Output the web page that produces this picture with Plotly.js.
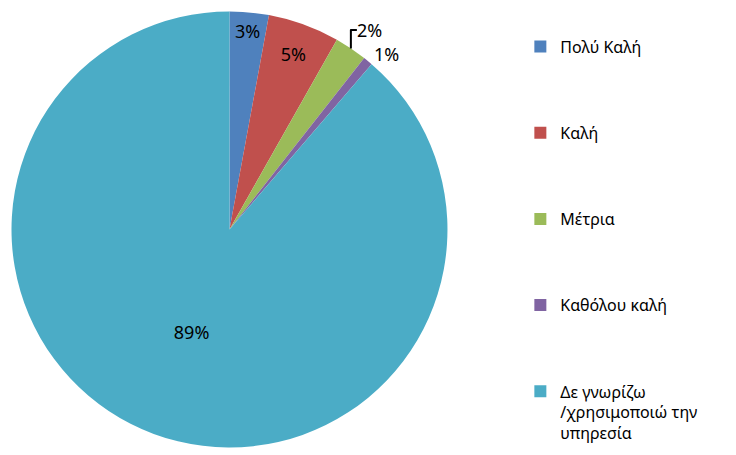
<!DOCTYPE html>
<html>
<head>
<meta charset="utf-8">
<script src="https://cdn.plot.ly/plotly-3.0.1.min.js"></script>
<style>html,body{margin:0;padding:0;background:#fff;}#chart{width:736px;height:455px;}</style>
</head>
<body>
<div id="chart"></div>
<script>
const categories = ["Πολύ Καλή", "Καλή", "Μέτρια", "Καθόλου καλή", "Δε γνωρίζω<br>/χρησιμοποιώ την<br>υπηρεσία"];
const values = [2.9, 5.3, 2.4, 0.7, 88.7];
const colors = ["#4F81BD", "#C0504D", "#9BBB59", "#8064A2", "#4BACC6"];
const textPositions = ["inside", "inside", "outside", "outside", "inside"];

// pad legend entries so they are spread vertically like the reference
const legendLabels = categories.map((c, i) => {
  const lines = c.split("<br>").length;
  let pad = "";
  if (i < categories.length - 1) for (let k = lines; k < 4; k++) pad += "<br> ";
  return c + pad;
});

const trace = {
  type: "pie",
  labels: legendLabels,
  values: values,
  sort: false,
  direction: "clockwise",
  rotation: 0,
  marker: {colors: colors, line: {width: 0}},
  texttemplate: "%{percent:.0%}",
  textposition: textPositions,
  insidetextorientation: "horizontal",
  textfont: {family: "Noto Sans, sans-serif", size: 18, color: "#000"},
  hoverinfo: "label+percent",
  domain: {x: [0.0149, 0.6087], y: [0.0165, 0.9747]},
  automargin: false
};

const layout = {
  width: 736, height: 455,
  margin: {l: 0, r: 0, t: 0, b: 0},
  paper_bgcolor: "#fff",
  showlegend: true,
  legend: {
    x: 0.707, y: 0.935, xanchor: "left", yanchor: "top",
    valign: "top",
    font: {family: "Noto Sans, sans-serif", size: 16, color: "#000"},
    itemwidth: 30
  },
  font: {family: "Noto Sans, sans-serif"}
};

Plotly.newPlot("chart", [trace], layout, {staticPlot: true});
</script>
</body>
</html>
